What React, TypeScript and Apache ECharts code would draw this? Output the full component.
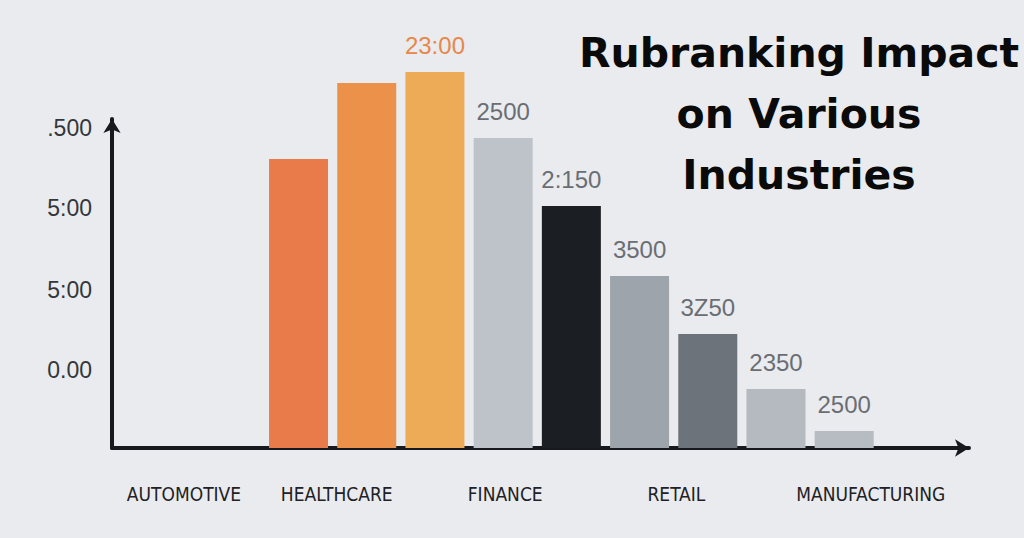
import React, { useEffect, useRef } from "react";
import * as echarts from "echarts";

const titleText = "Rubranking Impact\non Various\nIndustries";

const barValues = [2890, 3650, 3760, 3100, 2420, 1720, 1140, 590, 170];
const barLabels = ["", "", "23:00", "2500", "2:150", "3500", "3Z50", "2350", "2500"];
const barColors = ["#E97B4B", "#EC914A", "#EDAB58", "#BEC3C9", "#1B1E22", "#9DA4AC", "#6C737A", "#B5BAC0", "#B7BCC2"];
const labelColors = ["#E8874A", "#E8874A", "#E8874A", "#6A6E74", "#6A6E74", "#6A6E74", "#6A6E74", "#6A6E74", "#6A6E74"];

const xTickValues = [-0.68, 1.56, 4.03, 6.54, 9.39];
const xTickLabels = ["AUTOMOTIVE", "HEALTHCARE", "FINANCE", "RETAIL", "MANUFACTURING"];

const yTickValues = [780, 1580, 2400, 3200];
const yTickLabels = ["0.00", "5:00", "5:00", ".500"];

export default function App() {
  const ref = useRef<HTMLDivElement>(null);
  useEffect(() => {
    if (!ref.current) return;
    const chart = echarts.init(ref.current, null, { renderer: "svg" });
    chart.setOption({
      animation: false,
      backgroundColor: "#E9EBEE",
      grid: { left: 112, right: 55, top: 119, bottom: 90, containLabel: false },
      graphic: [
        {
          type: "text",
          x: 799,
          y: 22,
          style: {
            text: titleText,
            textAlign: "center",
            textVerticalAlign: "top",
            fontFamily: "'DejaVu Sans', Lato, sans-serif",
            fontWeight: "bold",
            fontSize: 41,
            lineHeight: 61,
            fill: "#0A0A0A",
          },
        },
      ],
      xAxis: {
        type: "value",
        min: -1.735,
        max: 10.83,
        splitLine: { show: false },
        axisTick: { show: false },
        axisLine: {
          show: true,
          onZero: false,
          symbol: ["none", "arrow"],
          symbolSize: [13, 14],
          lineStyle: { color: "#16191D", width: 4 },
        },
        axisLabel: {
          customValues: xTickValues,
          margin: 36,
          fontSize: 19,
          color: "#1E2125",
          fontFamily: "'Liberation Sans Narrow', 'DejaVu Sans Condensed', 'Liberation Sans', Arial, sans-serif",
          formatter: (v: number) => {
            const i = xTickValues.findIndex((t) => Math.abs(t - v) < 1e-6);
            return i >= 0 ? xTickLabels[i] : "";
          },
        },
      },
      yAxis: {
        type: "value",
        min: 0,
        max: 3290,
        splitLine: { show: false },
        axisTick: { show: false },
        axisLine: {
          show: true,
          onZero: false,
          symbol: ["none", "arrow"],
          symbolSize: [13, 14],
          lineStyle: { color: "#16191D", width: 4 },
        },
        axisLabel: {
          customValues: yTickValues,
          margin: 20,
          fontSize: 23,
          color: "#33363A",
          fontFamily: "'Liberation Sans', Arial, sans-serif",
          formatter: (v: number) => {
            const i = yTickValues.findIndex((t) => Math.abs(t - v) < 1e-6);
            return i >= 0 ? yTickLabels[i] : "";
          },
        },
      },
      series: [
        {
          type: "bar",
          barWidth: 59,
          clip: false,
          z: 1,
          data: barValues.map((v, i) => ({
            value: [i + 1, v],
            itemStyle: { color: barColors[i] },
            label: {
              show: barLabels[i] !== "",
              position: "top",
              distance: 15,
              formatter: barLabels[i],
              fontSize: 24,
              color: labelColors[i],
              fontFamily: "'Liberation Sans', Arial, sans-serif",
            },
          })),
        },
      ],
    });
    return () => chart.dispose();
  }, []);
  return <div ref={ref} style={{ position: "fixed", left: 0, top: 0, width: 1024, height: 538 }} />;
}
